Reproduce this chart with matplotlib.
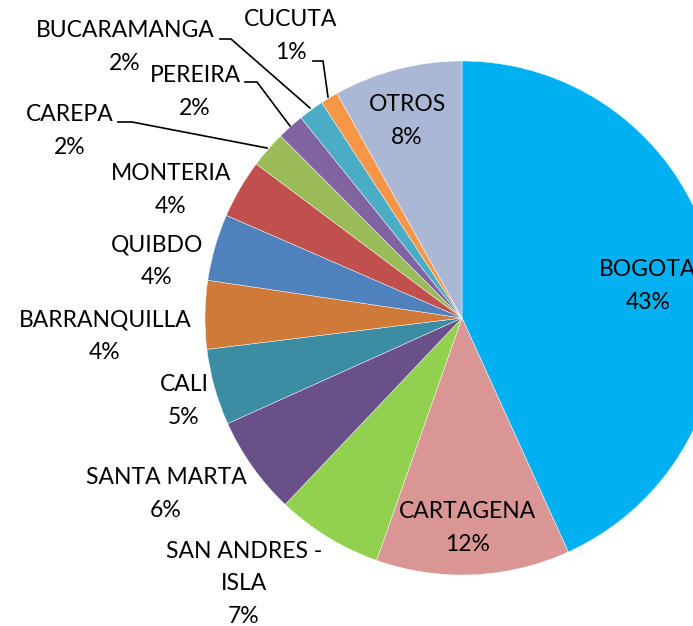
import matplotlib
matplotlib.use("Agg")
import matplotlib.pyplot as plt

# share per city (%), clockwise from 12 o'clock
cities = ["BOGOTA", "CARTAGENA", "SAN ANDRES -\nISLA", "SANTA MARTA", "CALI",
          "BARRANQUILLA", "QUIBDO", "MONTERIA", "CAREPA", "PEREIRA",
          "BUCARAMANGA", "CUCUTA", "OTROS"]
shares = [43.3, 12.2, 6.7, 6.2, 4.8, 4.3, 4.2, 3.7, 2.3, 1.7, 1.6, 1.1, 8.1]
colors = ["#00B0F0", "#D99694", "#92D050", "#6A5088", "#3C8DA3", "#D07A3A",
          "#4F81BD", "#C0504D", "#9BBB59", "#8064A2", "#4BACC6", "#F79646",
          "#AAB8D6"]

# label centres in pixel coords (from top-left), leader lines for the small slices
label_pos = [(648, 286), (468, 528), (244, 584), (166, 494), (184, 401),
             (105, 336), (157, 261), (171, 190), (70, 131), (195, 92),
             (125, 47), (291, 36), (407, 121)]
leaders = {
    "CAREPA": [(118, 122), (132, 122), (267, 148)],
    "PEREIRA": [(245, 82), (257, 82), (290, 126)],
    "BUCARAMANGA": [(220, 39), (231, 39), (310, 108)],
    "CUCUTA": [(313, 61), (323, 61), (328, 97)],
}

W, H = 693, 626
fig = plt.figure(figsize=(W / 100, H / 100), dpi=100)
ax = fig.add_axes([0, 0, 1, 1])

ax.pie(shares, colors=colors, startangle=90, counterclock=False,
       center=(462, H - 318), radius=257,
       wedgeprops=dict(linewidth=0.3, edgecolor="white"))
ax.set_xlim(0, W)
ax.set_ylim(0, H)
ax.set_aspect("equal")
ax.axis("off")

total = sum(shares)
for name, val, (x, y) in zip(cities, shares, label_pos):
    txt = "%s\n%d%%" % (name, round(val / total * 100))
    ax.text(x, H - y, txt, ha="center", va="center", family="Lato",
            fontsize=16.5, linespacing=1.65, color="black", clip_on=True)

for pts in leaders.values():
    ax.plot([p[0] for p in pts], [H - p[1] for p in pts], color="black", lw=1.2)

fig.savefig("out.png", dpi=100)
